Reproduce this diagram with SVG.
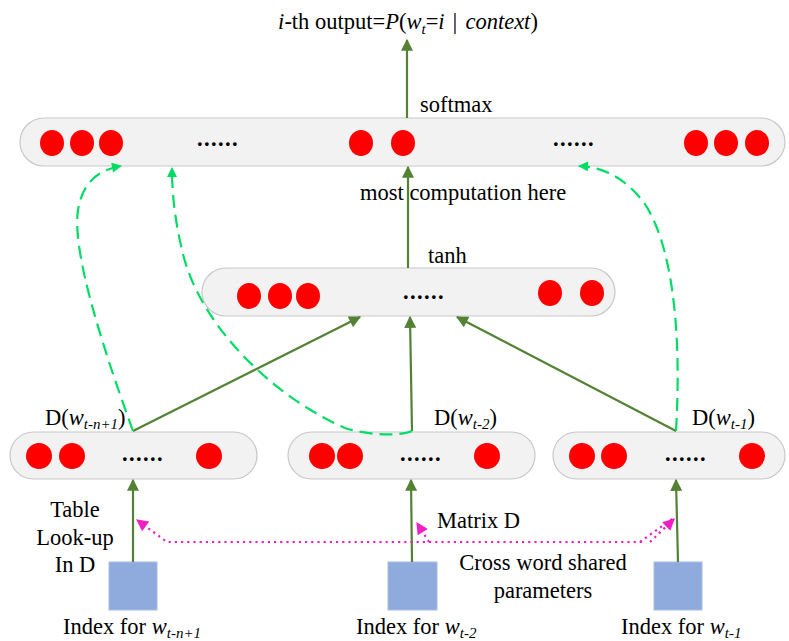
<svg xmlns="http://www.w3.org/2000/svg" width="789" height="641" viewBox="0 0 789 641">
<defs>
<style>
.bar{fill:#f2f2f2;stroke:#c8c8c8;stroke-width:1.2}
.dot{fill:#ff0000}
.sq{fill:#8faadc;stroke:#a9bde3;stroke-width:1}
.t{font-family:"Liberation Serif","Times New Roman",serif;font-size:22.5px;fill:#000}
.el{font-family:"Liberation Serif","Times New Roman",serif;font-size:22.5px;font-weight:bold;letter-spacing:1.4px;fill:#000}
.it{font-style:italic}
.sub{font-style:italic;font-size:15px}
.sol{fill:none;stroke:#548235;stroke-width:2.2}
.dash{fill:none;stroke:#00dc64;stroke-width:2.2;stroke-dasharray:13 7}
.mag{fill:none;stroke:#ee1fc4;stroke-width:2.2;stroke-dasharray:2.2 4}
</style>
<marker id="agb" viewBox="0 0 10 10" refX="9" refY="5" markerWidth="14" markerHeight="12" orient="auto" markerUnits="userSpaceOnUse"><path d="M0,0 L10,5 L0,10 z" fill="#548235"/></marker>
<marker id="ad" viewBox="0 0 10 10" refX="9" refY="5" markerWidth="12" markerHeight="10" orient="auto" markerUnits="userSpaceOnUse"><path d="M0,0 L10,5 L0,10 z" fill="#00dc64"/></marker>
<marker id="am" viewBox="0 0 10 10" refX="9" refY="5" markerWidth="14" markerHeight="12" orient="auto" markerUnits="userSpaceOnUse"><path d="M0,0 L10,5 L0,10 z" fill="#ee1fc4"/></marker>
</defs>
<rect width="789" height="641" fill="#ffffff"/>

<text class="t" x="408" y="29" text-anchor="middle"><tspan class="it">i</tspan>-th output=<tspan class="it">P</tspan>(<tspan class="it">w</tspan><tspan class="sub" dy="5">t</tspan><tspan dy="-5">=</tspan><tspan class="it">i</tspan><tspan dx="8" font-size="24">|</tspan><tspan class="it" dx="8">context</tspan>)</text>

<g id="output-layer">
<rect class="bar" x="20" y="118" width="765" height="48" rx="24"/>
<ellipse class="dot" cx="52" cy="143" rx="12" ry="13"/>
<ellipse class="dot" cx="82" cy="143" rx="12" ry="13"/>
<ellipse class="dot" cx="111" cy="143" rx="12" ry="13"/>
<text class="el" x="218" y="146" text-anchor="middle">......</text>
<ellipse class="dot" cx="361" cy="143" rx="12" ry="13"/>
<ellipse class="dot" cx="403" cy="143" rx="12" ry="13"/>
<text class="el" x="574" y="146" text-anchor="middle">......</text>
<ellipse class="dot" cx="696" cy="143" rx="12" ry="13"/>
<ellipse class="dot" cx="726" cy="143" rx="12" ry="13"/>
<ellipse class="dot" cx="757" cy="143" rx="12" ry="13"/>
<text class="t" x="420" y="112">softmax</text>
</g>

<g id="hidden-layer">
<rect class="bar" x="202" y="268" width="413" height="48" rx="24"/>
<ellipse class="dot" cx="249" cy="296" rx="12" ry="13"/>
<ellipse class="dot" cx="280" cy="296" rx="12" ry="13"/>
<ellipse class="dot" cx="308" cy="296" rx="12" ry="13"/>
<text class="el" x="424" y="299" text-anchor="middle">......</text>
<ellipse class="dot" cx="550" cy="293" rx="12" ry="13"/>
<ellipse class="dot" cx="592" cy="293" rx="12" ry="13"/>
<text class="t" x="428" y="263">tanh</text>
<text class="t" x="360" y="200">most computation here</text>
</g>

<g id="embed-1">
<rect class="bar" x="10" y="432" width="247" height="47" rx="23.5"/>
<circle class="dot" cx="39" cy="456" r="13"/>
<circle class="dot" cx="72" cy="456" r="13"/>
<text class="el" x="143" y="461" text-anchor="middle">......</text>
<circle class="dot" cx="209" cy="456" r="13"/>
<text class="t" x="45" y="425">D(<tspan class="it">w</tspan><tspan class="sub" dy="4">t-n+1</tspan><tspan dy="-4">)</tspan></text>
</g>

<g id="embed-2">
<rect class="bar" x="288" y="432" width="247" height="47" rx="23.5"/>
<circle class="dot" cx="322" cy="456" r="13"/>
<circle class="dot" cx="350" cy="456" r="13"/>
<text class="el" x="421" y="461" text-anchor="middle">......</text>
<circle class="dot" cx="487" cy="456" r="13"/>
<text class="t" x="434" y="425">D(<tspan class="it">w</tspan><tspan class="sub" dy="4">t-2</tspan><tspan dy="-4">)</tspan></text>
</g>

<g id="embed-3">
<rect class="bar" x="553" y="432" width="232" height="47" rx="23.5"/>
<circle class="dot" cx="582" cy="456" r="13"/>
<circle class="dot" cx="614" cy="456" r="13"/>
<text class="el" x="686" y="461" text-anchor="middle">......</text>
<circle class="dot" cx="752" cy="456" r="13"/>
<text class="t" x="692" y="425">D(<tspan class="it">w</tspan><tspan class="sub" dy="4">t-1</tspan><tspan dy="-4">)</tspan></text>
</g>

<g id="index-1">
<rect class="sq" x="109" y="562" width="48" height="48"/>
<text class="t" x="63" y="634">Index for <tspan class="it">w</tspan><tspan class="sub" dy="4">t-n+1</tspan></text>
<text class="t" x="75" y="517" text-anchor="middle">Table</text>
<text class="t" x="75" y="545" text-anchor="middle">Look-up</text>
<text class="t" x="75" y="572" text-anchor="middle">In D</text>
</g>

<g id="index-2">
<rect class="sq" x="388" y="562" width="49" height="48"/>
<text class="t" x="356" y="634">Index for <tspan class="it">w</tspan><tspan class="sub" dy="4">t-2</tspan></text>
</g>

<g id="index-3">
<rect class="sq" x="654" y="562" width="48" height="48"/>
<text class="t" x="621" y="634">Index for <tspan class="it">w</tspan><tspan class="sub" dy="4">t-1</tspan></text>
</g>

<g id="shared-label">
<text class="t" x="437" y="528">Matrix D</text>
<text class="t" x="543" y="570" text-anchor="middle">Cross word shared</text>
<text class="t" x="543" y="598" text-anchor="middle">parameters</text>
</g>

<g id="connectors">
<line class="sol" x1="407" y1="118" x2="407" y2="40" marker-end="url(#agb)"/>
<line class="sol" x1="408" y1="268" x2="408" y2="167" marker-end="url(#agb)"/>
<line class="sol" x1="133" y1="431" x2="360" y2="317" marker-end="url(#agb)"/>
<line class="sol" x1="412" y1="431" x2="410" y2="317" marker-end="url(#agb)"/>
<line class="sol" x1="676" y1="431" x2="457" y2="317" marker-end="url(#agb)"/>
<line class="sol" x1="133" y1="562" x2="133" y2="480" marker-end="url(#agb)"/>
<line class="sol" x1="412" y1="562" x2="411" y2="480" marker-end="url(#agb)"/>
<line class="sol" x1="678" y1="562" x2="676" y2="480" marker-end="url(#agb)"/>

<path class="dash" d="M133,431 C100,340 72,250 78,210 C83,180 100,170 121,166" marker-end="url(#ad)"/>
<path class="dash" d="M412,431 C400,436 370,436 345,428 C280,400 200,330 182,250 C175,220 172,195 172,168" marker-end="url(#ad)"/>
<path class="dash" d="M676,431 C682,330 672,240 642,200 C622,176 602,167 579,166" marker-end="url(#ad)"/>

<path class="mag" d="M642,542 L167,542 L137,520" marker-end="url(#am)"/>
<path class="mag" d="M429,542 L417,523" marker-end="url(#am)"/>
<path class="mag" d="M650,542 L674,519" marker-end="url(#am)"/>
<path class="mag" d="M640,542 L672,519"/>
</g>
</svg>
